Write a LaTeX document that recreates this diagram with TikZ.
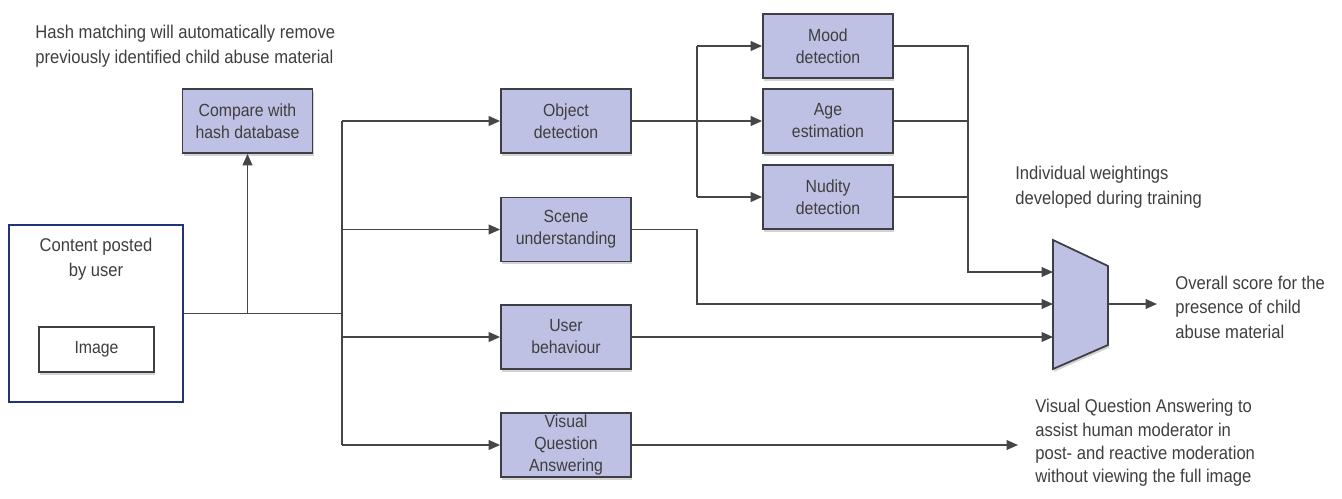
\documentclass[tikz,border=0pt]{standalone}
\usepackage{fontspec}
\setmainfont{Liberation Sans}[FakeStretch=0.9]
\usetikzlibrary{arrows.meta,positioning,shadows}
\definecolor{boxfill}{RGB}{191,193,228}
\definecolor{boxline}{RGB}{62,62,70}
\definecolor{linegray}{RGB}{70,70,70}
\definecolor{txtgray}{RGB}{62,62,62}
\definecolor{postblue}{RGB}{35,50,125}

\tikzset{
  stage/.style={draw=boxline, fill=boxfill, line width=1pt,
    minimum width=2.6cm, minimum height=1.28cm, inner sep=1pt,
    align=center, text=txtgray, font=\fontsize{10}{12.5}\selectfont,
    drop shadow={shadow xshift=0.6pt, shadow yshift=-1.6pt, opacity=0.35}},
  note/.style={align=left, anchor=west, inner sep=0pt, text=txtgray,
    font=\fontsize{10.5}{14}\selectfont},
  wire/.style={draw=linegray, line width=1pt},
  feed/.style={wire, -{Triangle[length=6.5pt,width=5.5pt]}},
}

\begin{document}
\begin{tikzpicture}[x=0.02cm, y=-0.02cm]
  \useasboundingbox (0,0) rectangle (1342,498);

  %% ── Input: posted content ───────────────────────────────────────
  \node[draw=postblue, line width=1pt, minimum width=3.48cm,
        minimum height=3.54cm, inner sep=0pt] (post) at (96,313.5) {};
  \node[text=txtgray, align=center, inner sep=0pt,
        font=\fontsize{10.5}{14}\selectfont] (posttitle) at (96,259.5)
    {Content posted\\by user};
  \node[stage, fill=white, minimum width=2.3cm, minimum height=0.9cm]
    (image) at (96.5,349.5) {Image};

  %% ── Hash matching ───────────────────────────────────────────────
  \node[stage] (compare) at (247.5,121) {Compare with\\hash database};
  \node[note] (hashnote) at (35,46.5)
    {Hash matching will automatically remove\\previously identified child abuse material};

  %% ── Analysis stages ─────────────────────────────────────────────
  \node[stage] (obj)   at (566,121)   {Object\\detection};
  \node[stage] (scene) at (566,229.5) {Scene\\understanding};
  \node[stage] (user)  at (566,337)   {User\\behaviour};
  \node[stage] (vqa)   at (566,445)   {Visual\\Question\\Answering};

  \node[stage] (mood)   at (828,46)  {Mood\\detection};
  \node[stage] (age)    at (828,121) {Age\\estimation};
  \node[stage] (nudity) at (828,197) {Nudity\\detection};

  %% ── Weighted combiner ───────────────────────────────────────────
  \filldraw[draw=boxline, fill=boxfill, line width=1pt,
            drop shadow={shadow xshift=0.6pt, shadow yshift=-1.6pt, opacity=0.35}]
    (1053,240) -- (1108,266) -- (1108,345) -- (1053,369) -- cycle;
  \coordinate (in1) at (1053,272);
  \coordinate (in2) at (1053,304);
  \coordinate (in3) at (1053,337);
  \coordinate (out) at (1108,304);

  \node[note] (weightnote) at (1015,187.5)
    {Individual weightings\\developed during training};
  \node[note] (score) at (1175,307)
    {Overall score for the\\presence of child\\abuse material};
  \node[note, font=\fontsize{10.5}{13.3}\selectfont] (vqanote) at (1035,443)
    {Visual Question Answering to\\assist human moderator in\\post- and reactive moderation\\without viewing the full image};

  %% ── Distribution bus ────────────────────────────────────────────
  \coordinate (bus) at (342,315);
  \draw[wire] (post.east) -- (post.east -| bus);
  \draw[feed] (post.east -| compare.south) -- (compare.south);
  \draw[wire] (bus |- obj.west) -- (bus |- vqa.west);
  \foreach \stg in {obj,scene,user,vqa}{
    \draw[feed] (bus |- \stg.west) -- (\stg.west);
  }

  %% ── Object detection fan-out ────────────────────────────────────
  \coordinate (fan) at (697,121);
  \draw[feed] (obj.east) -- (age.west);
  \draw[wire] (fan |- mood.west) -- (fan |- nudity.west);
  \draw[feed] (fan |- mood.west) -- (mood.west);
  \draw[feed] (fan |- nudity.west) -- (nudity.west);

  %% ── Into the combiner ───────────────────────────────────────────
  \coordinate (join) at (968,272);
  \draw[feed] (mood.east) -| (join) -- (in1);
  \draw[wire] (age.east) -- (age.east -| join);
  \draw[wire] (nudity.east) -- (nudity.east -| join);
  \draw[feed] (scene.east) -| (fan |- in2) -- (in2);
  \draw[feed] (user.east) -- (in3);

  %% ── Outputs ─────────────────────────────────────────────────────
  \draw[feed, shorten >=0.36cm] (out) -- (out -| score.west);
  \draw[feed, shorten >=0.34cm] (vqa.east) -- (vqa.east -| vqanote.west);

\end{tikzpicture}
\end{document}
